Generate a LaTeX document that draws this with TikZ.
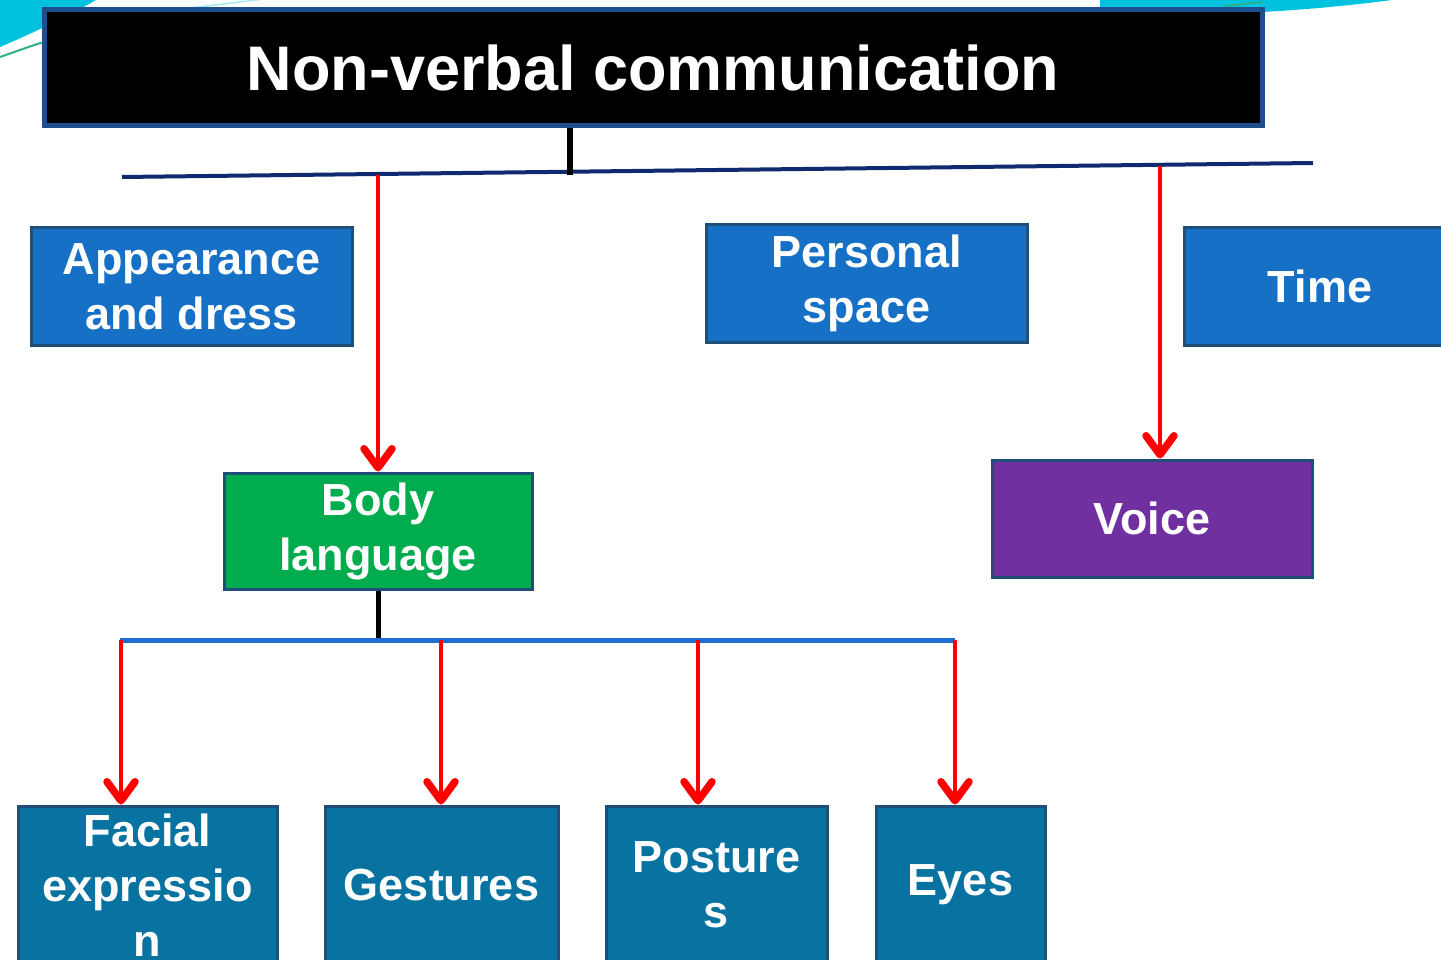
\documentclass[tikz,border=0pt]{standalone}
\usepackage{fontspec}
\setmainfont{Liberation Sans}
\usetikzlibrary{arrows.meta}

\definecolor{titleedge}{HTML}{1F4E8C}
\definecolor{boxedge}{HTML}{1F4E79}
\definecolor{topblue}{HTML}{1570C6}
\definecolor{bodygreen}{HTML}{00AC4E}
\definecolor{voicepurple}{HTML}{7030A0}
\definecolor{subteal}{HTML}{0873A1}
\definecolor{navyline}{HTML}{0F2A6E}
\definecolor{barblue}{HTML}{1F6FD2}
\definecolor{swoosh}{HTML}{00C2DE}
\definecolor{swooshedge}{HTML}{2BB08C}

\tikzset{
  box/.style={draw=boxedge, line width=3pt, text=white, inner sep=0pt,
    font=\fontsize{45}{55}\selectfont\bfseries, align=center},
  titlebox/.style={box, fill=black, draw=titleedge, line width=5pt,
    font=\fontsize{63}{70}\selectfont\bfseries},
  redarrow/.style={draw=red, line width=4pt,
    -{Straight Barb[length=19pt,width=28pt,line width=7.5pt,round]}},
  stem/.style={draw=black, line width=6pt},
}

\begin{document}
\begin{tikzpicture}[x=1pt,y=-1pt]
  \useasboundingbox (0,0) rectangle (1441,960);
  \fill[white] (0,0) rectangle (1441,960);

  % decorative swooshes along the top edge
  \fill[swoosh] (0,0) -- (96,0) .. controls (70,15) and (40,30) .. (0,47) -- cycle;
  \draw[swooshedge, line width=2pt] (0,57) .. controls (15,52) and (30,46) .. (44,42);
  \fill[swoosh!35] (175,9) -- (250,0) -- (262,0) -- (190,9) -- cycle;
  \fill[swoosh] (1100,0) -- (1100,16) .. controls (1250,16) and (1330,8) .. (1392,0) -- cycle;
  \draw[swooshedge, line width=2pt] (1225,6) -- (1262,2);

  % title
  \node[titlebox, minimum width=1218pt, minimum height=116pt] (nvc) at (653,68)
    {Non-verbal communication};

  % first level
  \node[box, fill=topblue, minimum width=321pt, minimum height=117pt] (app) at (191.5,286.5)
    {Appearance\\and dress};
  \node[box, fill=topblue, minimum width=321pt, minimum height=117pt] (pers) at (866.5,283.5)
    {Personal\\space};
  \node[box, fill=topblue, minimum width=272pt, minimum height=117pt] (time) at (1320,286.5)
    {Time};
  \node[box, fill=bodygreen, minimum width=308pt, minimum height=116pt] (body) at (378,531)
    {Body\\language};
  \node[box, fill=voicepurple, minimum width=320pt, minimum height=117pt] (voice) at (1152,518.5)
    {Voice};

  % second level
  \node[box, fill=subteal, minimum width=259pt, minimum height=158pt] (face) at (147.5,885)
    {Facial\\expressio\\n};
  \node[box, fill=subteal, minimum width=233pt, minimum height=158pt] (gest) at (441.5,885)
    {Gestures};
  \node[box, fill=subteal, minimum width=221pt, minimum height=158pt] (post) at (716.5,885)
    {Posture\\s};
  \node[box, fill=subteal, minimum width=169pt, minimum height=158pt] (eyes) at (960.5,885)
    {Eyes};

  % upper distribution line
  \coordinate (ul) at (122,177);
  \coordinate (ur) at (1313,163);
  \draw[navyline, line width=4pt] (ul) -- (ur);
  \coordinate (hub) at (570,175);
  \draw[stem] (nvc.south -| hub) -- (hub);
  \coordinate (tb) at (378,175);
  \coordinate (tv) at (1160,166);
  \draw[redarrow] (tb) -- (tb |- body.north);
  \draw[redarrow] (tv) -- (tv |- voice.north);

  % lower distribution line
  \coordinate (ll) at (120,640);
  \coordinate (lr) at (955,640);
  \draw[stem, line width=5pt] (body.south) -- (body.south |- ll);
  \draw[barblue, line width=5pt] (ll) -- (lr);
  \coordinate (b1) at (121,640);
  \coordinate (b2) at (441,640);
  \coordinate (b3) at (698,640);
  \coordinate (b4) at (955,640);
  \draw[redarrow] (b1) -- (b1 |- face.north);
  \draw[redarrow] (b2) -- (b2 |- gest.north);
  \draw[redarrow] (b3) -- (b3 |- post.north);
  \draw[redarrow] (b4) -- (b4 |- eyes.north);
\end{tikzpicture}
\end{document}
